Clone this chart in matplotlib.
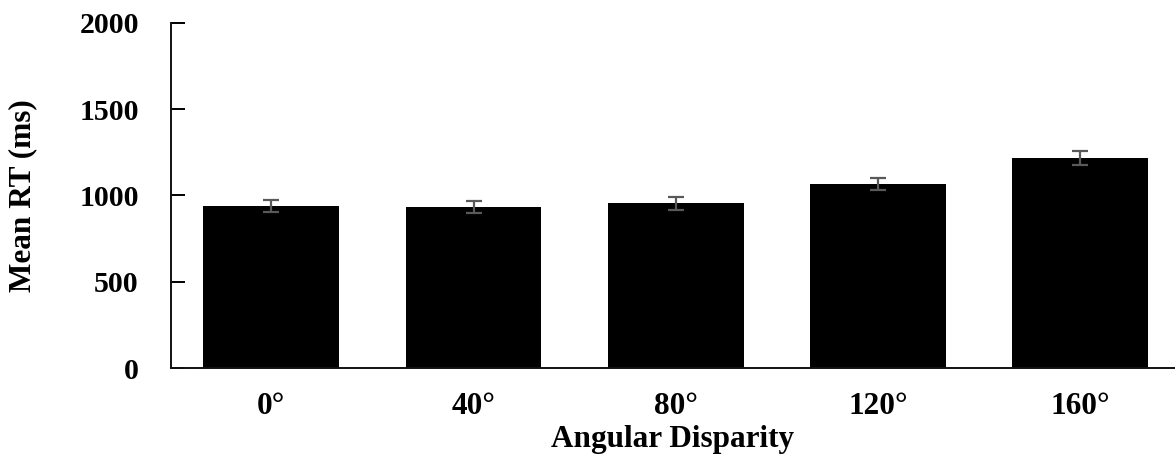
import numpy as np
import matplotlib
matplotlib.use('Agg')
import matplotlib.pyplot as plt

plt.rcParams['font.family'] = ['Liberation Serif', 'DejaVu Serif']
plt.rcParams['font.weight'] = 'bold'

angles = ['0°', '40°', '80°', '120°', '160°']
mean_rt = [938, 932, 954, 1066, 1216]
sem_rt = [35, 34, 37, 36, 42]

fig = plt.figure(figsize=(11.75, 4.54), dpi=100)
ax = fig.add_axes([0.1453, 0.1888, 1 - 0.1453, 0.950 - 0.1888])

x = np.arange(len(angles))
ax.bar(x, mean_rt, width=0.672, color='black', zorder=2)
ax.errorbar(x, mean_rt, yerr=sem_rt, fmt='none', ecolor='#595959',
            elinewidth=1.6, capsize=5.5, capthick=1.6, zorder=3)

ax.set_xlim(-0.497, 4.468)
ax.set_ylim(0, 2000)
ax.set_yticks([0, 500, 1000, 1500, 2000])
ax.set_xticks(x)
ax.set_xticklabels(angles)

for s in ['top', 'right']:
    ax.spines[s].set_visible(False)
for s in ['left', 'bottom']:
    ax.spines[s].set_linewidth(1.4)
    ax.spines[s].set_color('#111111')

ax.tick_params(axis='y', direction='in', length=10, width=1.4, pad=23,
               labelsize=21.5)
ax.tick_params(axis='x', length=0, pad=17, labelsize=22.5)
for lbl in ax.get_xticklabels() + ax.get_yticklabels():
    lbl.set_fontweight('bold')

ax.set_ylabel('Mean RT (ms)', fontsize=22.5, fontweight='bold', labelpad=30)
ax.set_xlabel('Angular Disparity', fontsize=22.5, fontweight='bold', labelpad=3)

fig.savefig('out.png', dpi=100)
